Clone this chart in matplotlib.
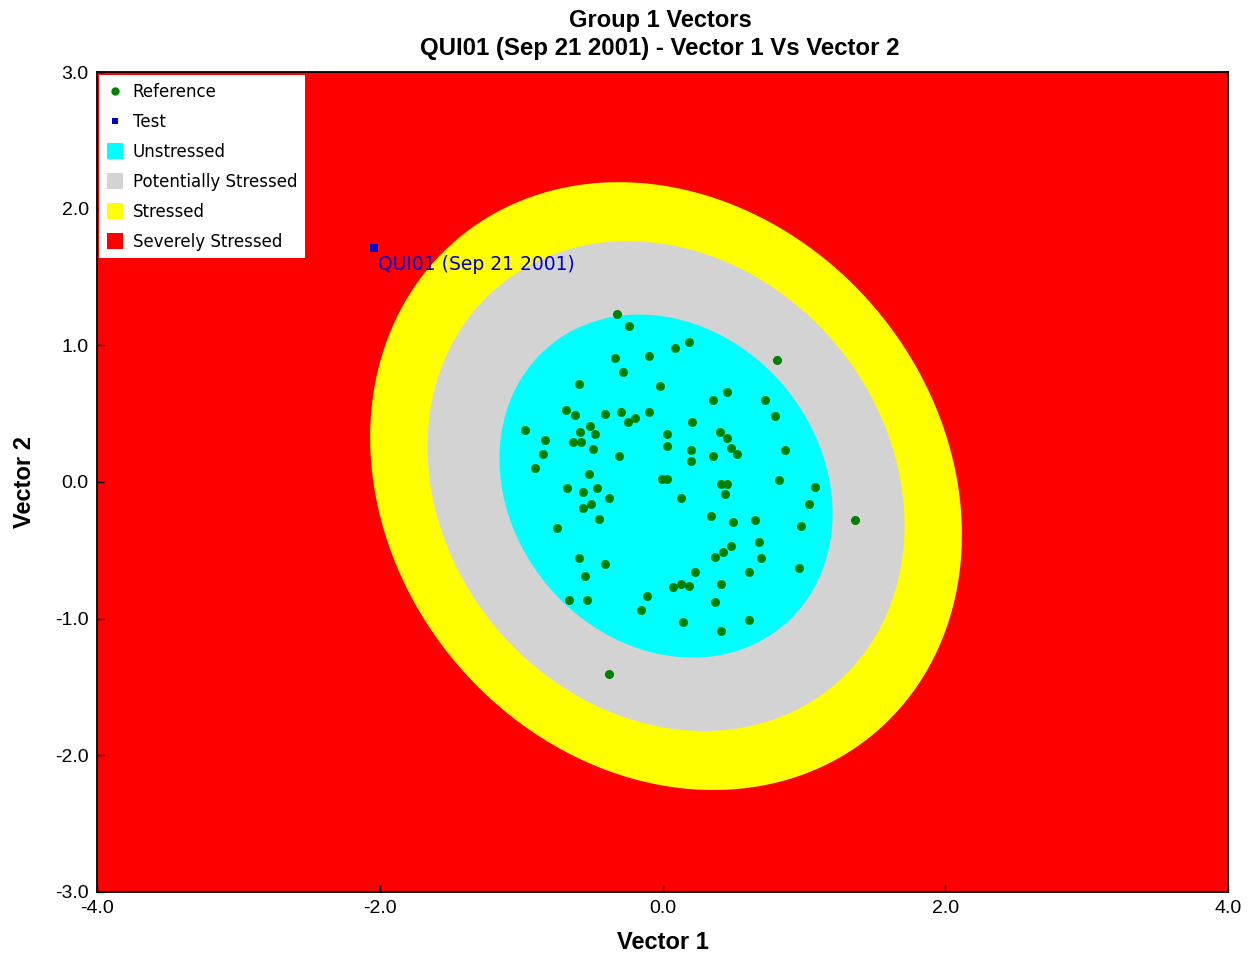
import numpy as np
import matplotlib.pyplot as plt
from matplotlib.lines import Line2D

# reference samples (Vector 1, Vector 2)
ref_x = [-0.324, -0.237, 0.187, 0.088, -0.338, -0.095, 0.808, -0.281, -0.593, -0.016,
         0.456, 0.355, 0.725, -0.680, -0.619, -0.409, -0.296, -0.095, 0.796, -0.194,
         -0.246, 0.211, -0.511, 0.409, -0.975, -0.581, 0.032, -0.477, -0.831, 0.456,
         -0.633, -0.578, 0.032, -0.492, 0.482, 0.866, 0.202, -0.847, 0.529, -0.310,
         0.355, 0.202, -0.902, -0.522, -0.006, 0.030, 0.824, 0.412, 0.456, -0.678,
         -0.465, 1.076, -0.562, 0.442, -0.378, 0.131, 1.036, -0.504, -0.562, -0.449,
         0.341, 0.654, 0.496, 1.359, 0.979, -0.748, 0.484, 0.682, 0.428, 0.369,
         0.697, -0.593, -0.409, 0.965, 0.230, 0.610, -0.550, 0.190, 0.412, 0.072,
         0.131, -0.663, -0.536, -0.112, 0.369, -0.154, 0.610, 0.145, 0.412, -0.380]
ref_y = [1.229, 1.141, 1.022, 0.978, 0.905, 0.922, 0.892, 0.805, 0.715, 0.700,
         0.658, 0.600, 0.600, 0.527, 0.492, 0.495, 0.512, 0.512, 0.483, 0.466,
         0.441, 0.437, 0.410, 0.364, 0.380, 0.366, 0.351, 0.349, 0.305, 0.320,
         0.290, 0.290, 0.263, 0.244, 0.247, 0.232, 0.234, 0.205, 0.205, 0.190,
         0.190, 0.154, 0.100, 0.056, 0.024, 0.024, 0.012, -0.016, -0.016, -0.044,
         -0.044, -0.040, -0.075, -0.090, -0.119, -0.119, -0.163, -0.161, -0.192, -0.268,
         -0.249, -0.280, -0.295, -0.280, -0.324, -0.339, -0.470, -0.441, -0.512, -0.546,
         -0.558, -0.558, -0.602, -0.631, -0.661, -0.661, -0.690, -0.763, -0.748, -0.766,
         -0.750, -0.865, -0.865, -0.836, -0.880, -0.939, -1.012, -1.026, -1.088, -1.407]

# test sample
test_x = [-2.04]
test_y = [1.71]
test_label = "QUI01 (Sep 21 2001)"

# stress zones: ellipse half-extents along each axis, outermost first
zone_names = ["Stressed", "Potentially Stressed", "Unstressed"]
zone_colors = ["#FFFF00", "#D3D3D3", "#00FFFF"]
zone_half_x = [2.093, 1.687, 1.178]
zone_half_y = [2.224, 1.792, 1.255]
zone_center = (0.025, -0.03)
zone_rho = -0.16

fam = ['Liberation Sans', 'DejaVu Sans']

fig = plt.figure(figsize=(12.5, 9.55), dpi=100)
ax = fig.add_axes([0.0776, 0.066, 0.9048, 0.8586])
ax.set_facecolor('#FF0000')

t = np.linspace(0, 2 * np.pi, 400)
for hx, hy, col in zip(zone_half_x, zone_half_y, zone_colors):
    ex = zone_center[0] + hx * np.cos(t)
    ey = zone_center[1] + hy * (zone_rho * np.cos(t) + np.sqrt(1 - zone_rho ** 2) * np.sin(t))
    ax.fill(ex, ey, color=col, lw=0, zorder=1)

ax.plot(ref_x, ref_y, 'o', color='#008000', markersize=6.5, mew=0, zorder=3)
ax.plot(test_x, test_y, 's', color='#0000CC', markersize=5.5, mew=0, zorder=3)
ax.annotate(test_label, (test_x[0], test_y[0]), xytext=(3, -5), textcoords='offset points',
            ha='left', va='top', color='#0000CC', fontsize=13.5, family='DejaVu Sans', zorder=4)

ax.set_xlim(-4, 4)
ax.set_ylim(-3, 3)
ax.set_xticks([-4, -2, 0, 2, 4])
ax.set_yticks([-3, -2, -1, 0, 1, 2, 3])
ax.set_xticklabels(['-4.0', '-2.0', '0.0', '2.0', '4.0'], family=fam, fontsize=14)
ax.set_yticklabels(['-3.0', '-2.0', '-1.0', '0.0', '1.0', '2.0', '3.0'], family=fam, fontsize=14)
ax.tick_params(direction='in', length=5, width=1, pad=6, colors='black')
for sp in ax.spines.values():
    sp.set_linewidth(1.3)

ax.set_xlabel('Vector 1', family=fam, fontsize=17, fontweight='bold', labelpad=10)
ax.set_ylabel('Vector 2', family=fam, fontsize=17, fontweight='bold', labelpad=14)
fig.text(0.528, 0.979, 'Group 1 Vectors', family=fam, fontsize=17, fontweight='bold',
         ha='center', va='center')
fig.text(0.528, 0.949, 'QUI01 (Sep 21 2001) - Vector 1 Vs Vector 2', family=fam, fontsize=17.3,
         fontweight='bold', ha='center', va='center')

handles = [
    Line2D([], [], ls='', marker='o', color='#008000', markersize=6, mew=0),
    Line2D([], [], ls='', marker='s', color='#0000CC', markersize=5, mew=0),
    Line2D([], [], ls='', marker='s', color='#00FFFF', markersize=11, mew=0),
    Line2D([], [], ls='', marker='s', color='#D3D3D3', markersize=11, mew=0),
    Line2D([], [], ls='', marker='s', color='#FFFF00', markersize=11, mew=0),
    Line2D([], [], ls='', marker='s', color='#FF0000', markersize=11, mew=0),
]
labels = ['Reference', 'Test', 'Unstressed', 'Potentially Stressed', 'Stressed', 'Severely Stressed']
leg = ax.legend(handles, labels, loc='upper left', bbox_to_anchor=(0.002, 0.996),
                borderaxespad=0, fancybox=False, framealpha=1, edgecolor='white',
                prop={'family': 'DejaVu Sans', 'size': 12}, labelspacing=0.72,
                handlelength=1.0, handletextpad=0.55, borderpad=0.45)
leg.get_frame().set_linewidth(0)
leg.set_zorder(5)

fig.savefig('out.png', dpi=100)
